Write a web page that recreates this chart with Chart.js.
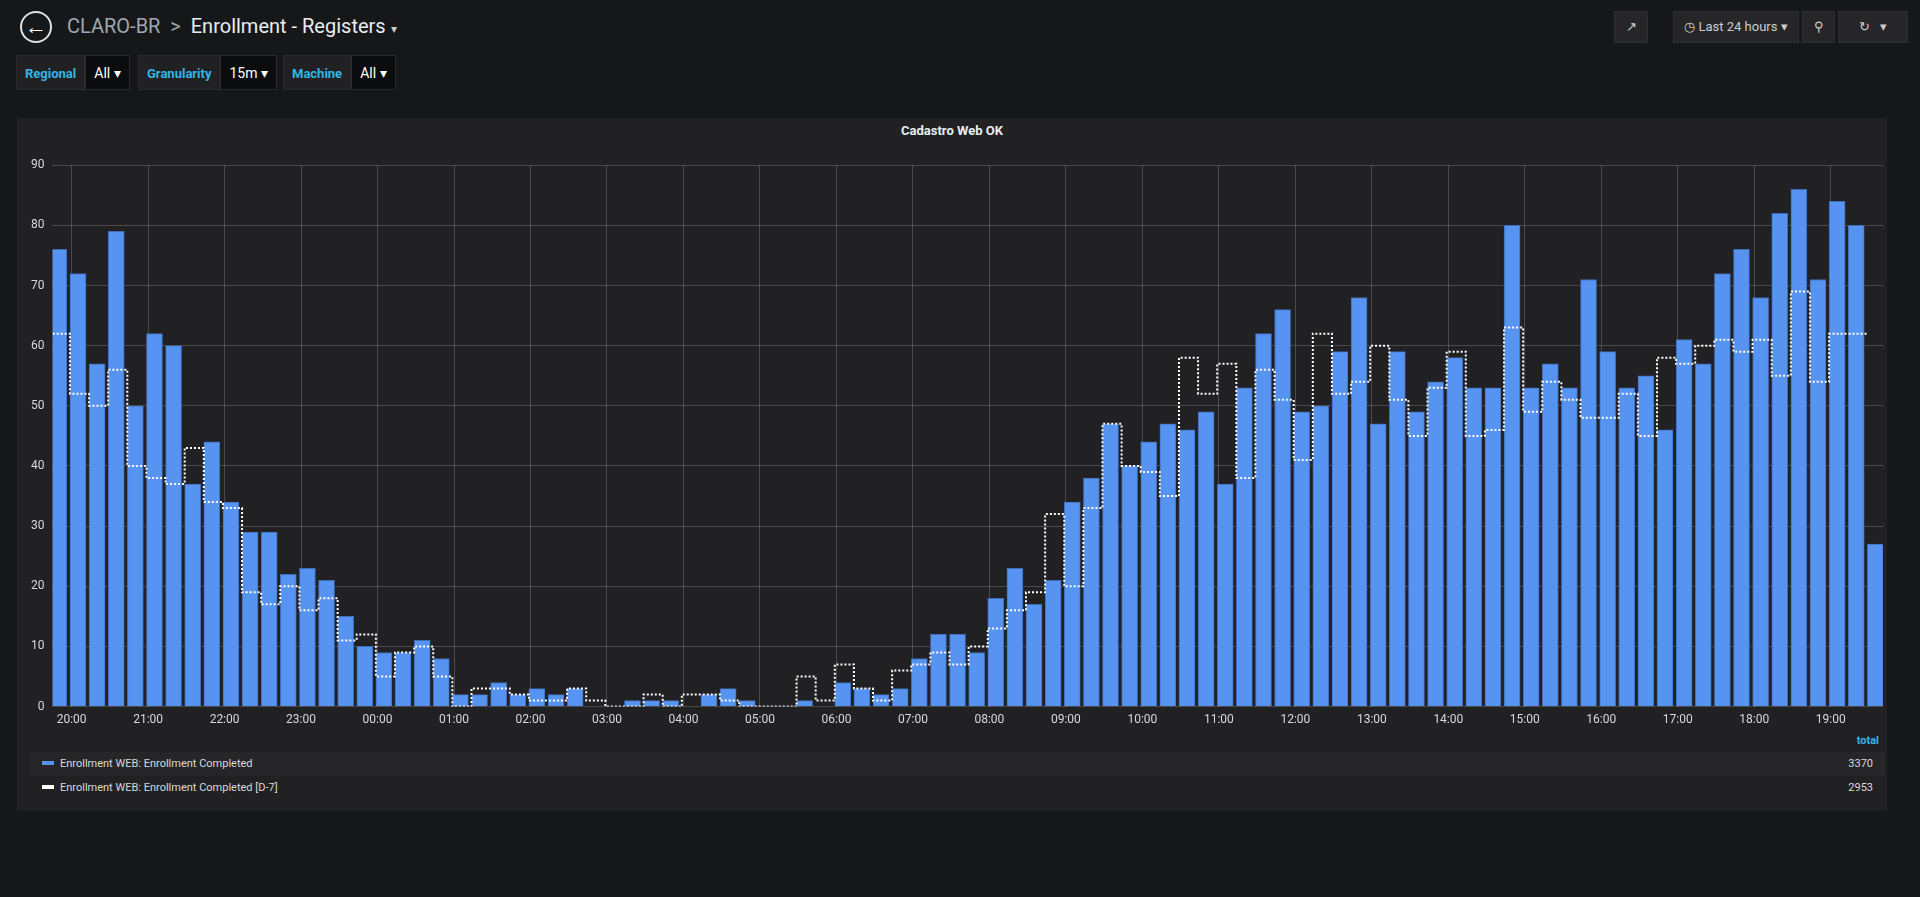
<!DOCTYPE html>
<html>
<head>
<meta charset="utf-8">
<script src="https://cdn.jsdelivr.net/npm/chart.js@4/dist/chart.umd.min.js"></script>
<style>
  body { margin:0; background:#161719; font-family:Roboto, "Liberation Sans", sans-serif; color:#d8d9da; width:1920px; height:897px; overflow:hidden; position:relative; }
  .abs { position:absolute; }
  .back { left:20px; top:11px; width:32px; height:32px; border-radius:50%; border:2px solid #e0e0e0; box-sizing:border-box; text-align:center; line-height:27px; font-size:22px; color:#fff; font-weight:bold; }
  .crumb { left:67px; top:14px; font-size:20px; color:#9fa7b3; }
  .crumb b { color:#e9edf2; font-weight:normal; }
  .var { top:55px; height:35px; display:flex; font-size:13px; }
  .var .lab { background:#212124; color:#33b5e5; padding:0 8px; line-height:35px; font-weight:bold; border:1px solid #2b2b2f; }
  .var .val { background:#0b0c0e; color:#fff; padding:0 8px; line-height:35px; font-size:14px; border:1px solid #2b2b2f; }
  .btn { top:11px; height:32px; background:#262628; border:1px solid #2f2f32; box-sizing:border-box; color:#ccc; font-size:13px; line-height:30px; text-align:center; }
  .panel { left:17px; top:118px; width:1870px; height:693px; background:#212124; }
  .title { left:0; width:100%; top:5px; text-align:center; font-size:13px; font-weight:bold; color:#e9edf2; }
  #wrap { position:absolute; left:6px; top:32px; width:1864px; height:583px; }
  .leg { left:13px; width:1855px; height:24px; font-size:11px; color:#d8d9da; line-height:24px; }
  .leg .sw { display:inline-block; width:12px; height:4px; margin:0 6px 2px 12px; vertical-align:middle; }
  .leg .tot { position:absolute; right:12px; top:0; }
</style>
</head>
<body>
<div class="abs back">&#8592;</div>
<div class="abs crumb">CLARO-BR &nbsp;&gt;&nbsp; <b>Enrollment - Registers</b> <span style="font-size:12px;color:#ccc">&#9662;</span></div>

<div class="abs var" style="left:16px"><div class="lab">Regional</div><div class="val">All &#9662;</div></div>
<div class="abs var" style="left:138px"><div class="lab">Granularity</div><div class="val">15m &#9662;</div></div>
<div class="abs var" style="left:283px"><div class="lab">Machine</div><div class="val">All &#9662;</div></div>

<div class="abs btn" style="left:1614px;width:34px">&#8599;</div>
<div class="abs btn" style="left:1673px;width:126px">&#9719; Last 24 hours &#9662;</div>
<div class="abs btn" style="left:1802px;width:33px">&#9906;</div>
<div class="abs btn" style="left:1838px;width:70px">&#8635; &nbsp; &#9662;</div>

<div class="abs panel">
  <div class="abs title">Cadastro Web OK</div>
  <div id="wrap"><canvas id="grafico"></canvas></div>
  <div class="abs" style="right:8px;top:616px;font-size:11px;font-weight:bold;color:#33b5e5">total</div>
  <div class="abs leg" style="top:634px;background:#262628"><span class="sw" style="background:#5794f2"></span>Enrollment WEB: Enrollment Completed<span class="tot">3370</span></div>
  <div class="abs leg" style="top:658px"><span class="sw" style="background:#fff"></span>Enrollment WEB: Enrollment Completed [D-7]<span class="tot">2953</span></div>
</div>

<script>
// minutos a partir das 20:00, um ponto a cada 15m
const rotulosHora = ['20:00','21:00','22:00','23:00','00:00','01:00','02:00','03:00','04:00','05:00','06:00','07:00',
                     '08:00','09:00','10:00','11:00','12:00','13:00','14:00','15:00','16:00','17:00','18:00','19:00'];

const completados = [76,72,57,79,50,62,60,37,44,34,29,29,22,23,21,15,10,9,9,11,
  8,2,2,4,2,3,2,3,0,0,1,1,1,0,2,3,1,0,0,1,
  0,4,3,2,3,8,12,12,9,18,23,17,21,34,38,47,40,44,47,46,
  49,37,53,62,66,49,50,59,68,47,59,49,54,58,53,53,80,53,57,53,
  71,59,53,55,46,61,57,72,76,68,82,86,71,84,80,27];

// D-7
const completadosD7 = [51,62,52,50,56,40,38,37,43,34,33,19,17,20,16,18,11,12,5,9,
  10,5,0,3,3,2,1,1,3,1,0,0,2,0,2,2,1,0,0,0,
  5,1,7,3,1,6,7,9,7,10,13,16,19,32,20,33,47,40,39,35,
  58,52,57,38,56,51,41,62,52,54,60,51,45,53,59,45,46,63,49,54,
  51,48,48,52,45,58,57,60,61,59,61,55,69,54,62];

// barras centradas 10 min antes do horario
let pontosBarra = completados.map((v, i) => ({ x: i * 15 - 10, y: v }))
// degrau comeca na borda esquerda da barra
let pontosD7 = completadosD7.map((v, i) => ({ x: i * 15 - 16.3, y: v }))
pontosD7.push({ x: completadosD7.length * 15 - 16.3, y: completadosD7[completadosD7.length - 1] })

let ctx = document.getElementById('grafico');

new Chart(ctx, {
    data: {
        datasets: [{
            type: 'line',
            label: 'Enrollment WEB: Enrollment Completed [D-7]',
            data: pontosD7,
            stepped: 'after',
            borderColor: '#ffffff',
            borderWidth: 2,
            borderDash: [2, 2],
            pointRadius: 0,
            fill: false
        },
        {
            type: 'bar',
            label: 'Enrollment WEB: Enrollment Completed',
            data: pontosBarra,
            backgroundColor: '#5794f2',
            borderColor: '#3f6db5',
            borderWidth: 1,
            barThickness: 16
        }]
    },
    options: {
        responsive: true,
        maintainAspectRatio: false,
        animation: false,
        layout: { padding: { left: 0, right: 4, top: 4, bottom: 0 } },
        plugins: { legend: { display: false }, tooltip: { enabled: false } },
        scales: {
            x: {
                type: 'linear',
                offset: false,
                min: -15,
                max: 1421,
                afterBuildTicks: (eixo) => {
                    eixo.ticks = rotulosHora.map((r, i) => ({ value: i * 60 }))
                },
                grid: { color: 'rgba(255,255,255,0.18)', drawTicks: false, offset: false },
                border: { display: false },
                ticks: {
                    color: '#d8d9da',
                    font: { size: 12, family: 'Roboto' },
                    padding: 6,
                    maxRotation: 0,
                    autoSkip: false,
                    callback: (v) => rotulosHora[Math.round(v / 60)]
                }
            },
            y: {
                min: 0,
                max: 90,
                grid: { color: 'rgba(255,255,255,0.18)', drawTicks: false },
                border: { display: false },
                ticks: {
                    stepSize: 10,
                    color: '#d8d9da',
                    font: { size: 12, family: 'Roboto' },
                    padding: 8
                }
            }
        }
    }
});
</script>
</body>
</html>
